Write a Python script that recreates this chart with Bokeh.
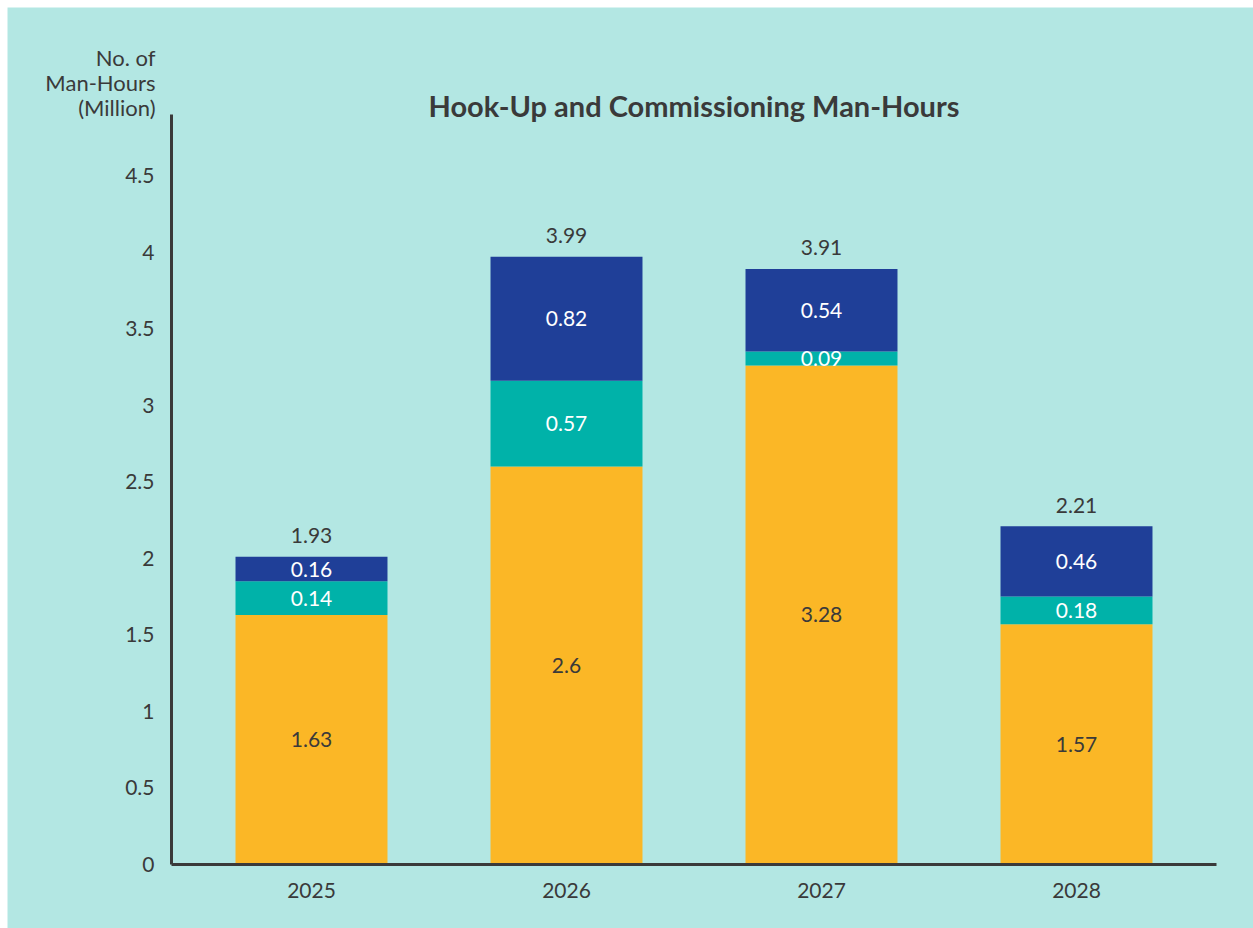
from bokeh.plotting import figure
from bokeh.models import ColumnDataSource, Range1d, FixedTicker
from bokeh.core.properties import value
from bokeh.embed import file_html
from bokeh.resources import INLINE

years = ["2025", "2026", "2027", "2028"]
# segment heights as drawn in the picture (million man-hours)
seg_yellow = [1.63, 2.60, 3.26, 1.57]
seg_teal = [0.22, 0.56, 0.09, 0.18]
seg_blue = [0.16, 0.81, 0.54, 0.46]
# printed data labels
lbl_yellow = ["1.63", "2.6", "3.28", "1.57"]
lbl_teal = ["0.14", "0.57", "0.09", "0.18"]
lbl_blue = ["0.16", "0.82", "0.54", "0.46"]
lbl_total = ["1.93", "3.99", "3.91", "2.21"]
y_ticks = [0, 0.5, 1, 1.5, 2, 2.5, 3, 3.5, 4, 4.5]
y_title = ["No. of", "Man-Hours", "(Million)"]
chart_title = "Hook-Up and Commissioning Man-Hours"

BG = "#b3e7e3"
YEL = "#fbb726"
TEAL = "#00b2a9"
BLUE = "#1f3f98"
TXT = "#3a3a3a"
FONT = "Lato"

# scale: one category step = 255 px, one y unit = 153.1 px
STEP = 255.0
YPX = 153.1
X_AXIS_LO, X_AXIS_HI = -0.549, 3.549   # extent of the drawn x axis
Y_AXIS_HI = 4.9                         # top of the drawn y axis
X_START = -304 / STEP                   # frame covers the whole canvas
X_END = 942 / STEP
Y_START = -64 / YPX
Y_END = 857 / YPX

xs = list(range(len(years)))
src = ColumnDataSource(dict(x=xs, yellow=seg_yellow, teal=seg_teal, blue=seg_blue))

p = figure(width=1246, height=921, output_backend="svg", toolbar_location=None,
           x_range=Range1d(X_START, X_END), y_range=Range1d(Y_START, Y_END),
           min_border_left=0, min_border_right=0, min_border_top=0, min_border_bottom=0)
p.margin = (7, 0, 0, 7)
p.background_fill_color = BG
p.border_fill_color = BG
p.outline_line_color = None
p.grid.grid_line_color = None

p.vbar_stack(["yellow", "teal", "blue"], x="x", width=0.596, source=src,
             color=[YEL, TEAL, BLUE], line_color=None)

cy, ct, cb, tot = [], [], [], []
for a, b, c in zip(seg_yellow, seg_teal, seg_blue):
    cy.append(a / 2)
    ct.append(a + b / 2)
    cb.append(a + b + c / 2)
    tot.append(a + b + c)

common = dict(text_font=value(FONT), text_font_size="21px", text_align="center",
              text_baseline="middle")
p.text(x=xs, y=cy, text=lbl_yellow, text_color=TXT, **common)
p.text(x=xs, y=ct, text=lbl_teal, text_color="white", **common)
p.text(x=xs, y=cb, text=lbl_blue, text_color="white", **common)
p.text(x=xs, y=tot, text=lbl_total, text_color=TXT, y_offset=-21, **common)

p.yaxis.ticker = FixedTicker(ticks=y_ticks)
p.yaxis.fixed_location = X_AXIS_LO
p.yaxis.bounds = (0, Y_AXIS_HI)
p.xaxis.ticker = FixedTicker(ticks=xs)
p.xaxis.fixed_location = 0
p.xaxis.bounds = (X_AXIS_LO, X_AXIS_HI)
p.xaxis.major_label_overrides = {i: y for i, y in enumerate(years)}
for ax in (p.xaxis, p.yaxis):
    ax.axis_line_color = "#3a3a3a"
    ax.axis_line_width = 3
    ax.major_tick_line_color = None
    ax.minor_tick_line_color = None
    ax.major_label_text_font = FONT
    ax.major_label_text_font_size = "21px"
    ax.major_label_text_color = TXT
p.yaxis.major_label_standoff = 11
p.xaxis.major_label_standoff = 12

# chart title, centred over the axes
p.text(x=[(X_AXIS_LO + X_AXIS_HI) / 2], y=[Y_AXIS_HI], text=[chart_title],
       text_font=value(FONT), text_font_style="bold", text_font_size="29px",
       text_color=TXT, text_align="center", text_baseline="middle", y_offset=-9)

# y-axis title, horizontal, right-aligned with the tick labels
p.text(x=[X_AXIS_LO] * 3, y=[Y_AXIS_HI] * 3, text=y_title,
       x_offset=-16, y_offset=[-57, -32, -7],
       text_font=value(FONT), text_font_size="22px", text_color=TXT,
       text_align="right", text_baseline="middle")

open("out.html", "w").write(file_html(p, INLINE))
